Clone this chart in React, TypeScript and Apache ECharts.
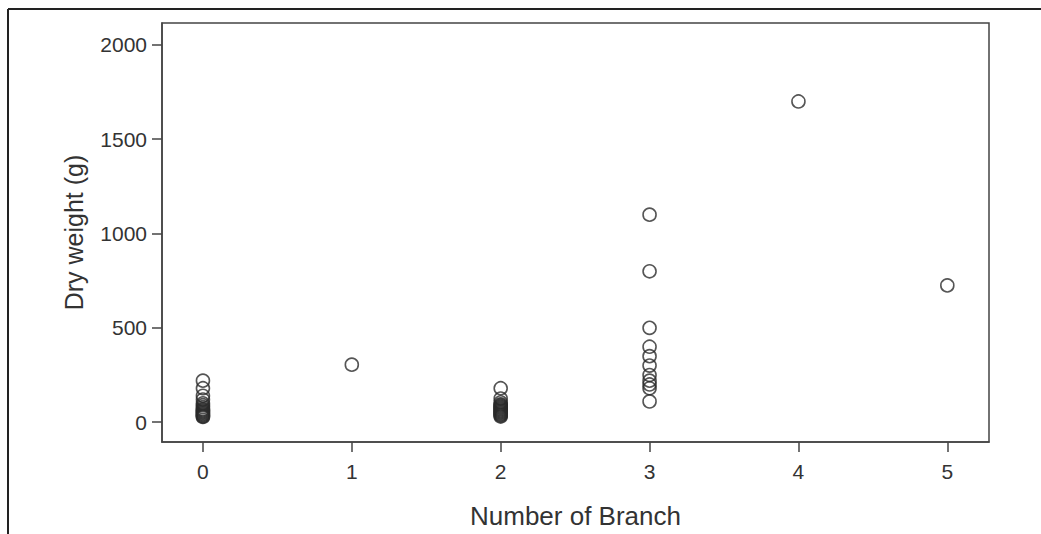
import React, { useEffect, useRef } from "react";
import * as echarts from "echarts";

const branchTicks = [0, 1, 2, 3, 4, 5];
const weightTicks = [0, 500, 1000, 1500, 2000];

const branch0 = [220, 180, 140, 120, 100, 90, 80, 70, 65, 60, 55, 50, 45, 40, 35, 30, 28];
const branch1 = [305];
const branch2 = [180, 125, 105, 95, 90, 85, 80, 75, 70, 65, 60, 55, 50, 45, 40, 35, 30];
const branch3 = [1100, 800, 500, 400, 350, 300, 250, 220, 200, 180, 110];
const branch4 = [1700];
const branch5 = [725];

const groups: [number, number[]][] = [
  [0, branch0],
  [1, branch1],
  [2, branch2],
  [3, branch3],
  [4, branch4],
  [5, branch5],
];

export default function App() {
  const ref = useRef<HTMLDivElement>(null);
  useEffect(() => {
    if (!ref.current) return;
    const chart = echarts.init(ref.current, null, { renderer: "svg" });
    const data: number[][] = [];
    groups.forEach(([x, ys]) => ys.forEach((y) => data.push([x, y])));
    const axisColor = "#444";
    const font = "'Liberation Sans', Arial, sans-serif";
    chart.setOption({
      animation: false,
      backgroundColor: "#fff",
      grid: {
        left: 162,
        top: 23,
        width: 827,
        height: 422,
        show: true,
        borderColor: axisColor,
        borderWidth: 1.5,
        backgroundColor: "transparent",
      },
      xAxis: {
        type: "value",
        min: -0.275,
        max: 5.28,
        name: "Number of Branch",
        nameLocation: "middle",
        nameGap: 61,
        nameTextStyle: { fontFamily: font, fontSize: 26, color: "#333" },
        axisLine: { show: true, onZero: false, lineStyle: { color: axisColor, width: 1.5 } },
        axisTick: {
          show: true,
          length: 10,
          customValues: branchTicks,
          lineStyle: { color: axisColor, width: 1.5 },
        },
        axisLabel: {
          customValues: branchTicks,
          formatter: (v: number) => String(v),
          fontFamily: font,
          fontSize: 21,
          color: "#333",
          margin: 19,
        },
        splitLine: { show: false },
      },
      yAxis: {
        type: "value",
        min: -105,
        max: 2116,
        name: "Dry weight (g)",
        nameLocation: "middle",
        nameGap: 76,
        nameTextStyle: { fontFamily: font, fontSize: 25, color: "#333" },
        axisLine: { show: true, onZero: false, lineStyle: { color: axisColor, width: 1.5 } },
        axisTick: {
          show: true,
          length: 10,
          customValues: weightTicks,
          lineStyle: { color: axisColor, width: 1.5 },
        },
        axisLabel: {
          customValues: weightTicks,
          formatter: (v: number) => String(v),
          fontFamily: font,
          fontSize: 21,
          color: "#333",
          margin: 15,
        },
        splitLine: { show: false },
      },
      graphic: [
        {
          type: "line",
          shape: { x1: 8, y1: 9, x2: 1041, y2: 9 },
          style: { stroke: "#222", lineWidth: 2 },
        },
        {
          type: "line",
          shape: { x1: 8, y1: 9, x2: 8, y2: 534 },
          style: { stroke: "#222", lineWidth: 2 },
        },
      ],
      series: [
        {
          type: "scatter",
          data,
          symbol: "circle",
          symbolSize: 13,
          itemStyle: {
            color: "transparent",
            borderColor: "#2a2a2a",
            borderWidth: 1.6,
          },
        },
      ],
    });
    return () => chart.dispose();
  }, []);
  return (
    <div
      ref={ref}
      style={{ width: 1041, height: 534, position: "absolute", left: 0, top: 0 }}
    />
  );
}
